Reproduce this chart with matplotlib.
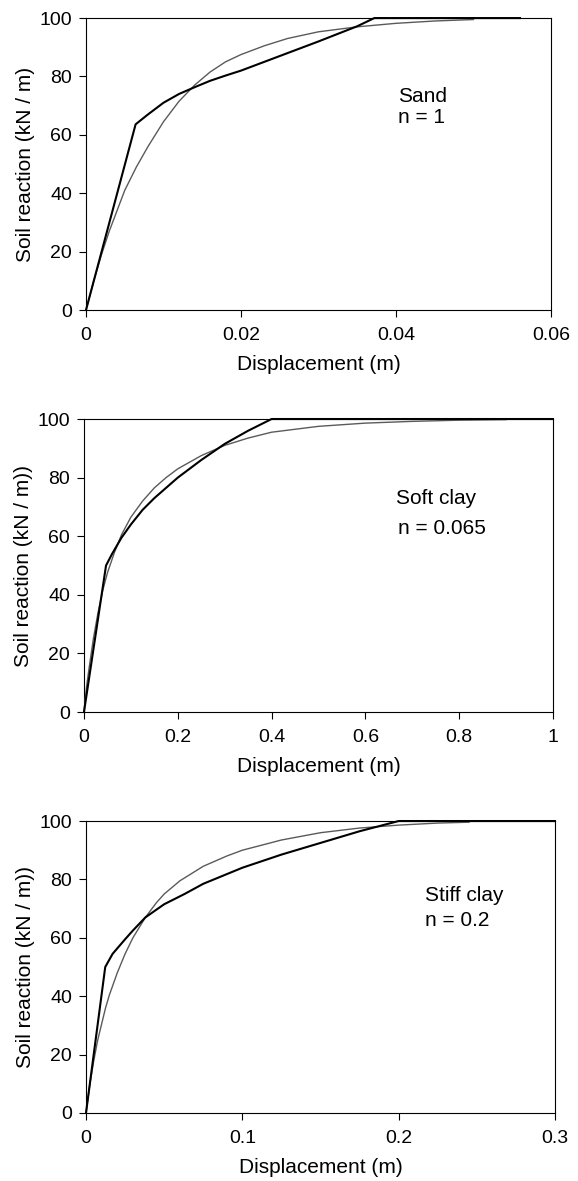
import matplotlib.pyplot as plt

plt.rcParams["font.family"] = ["Liberation Sans", "DejaVu Sans"]

# --- Sand, n = 1 ---
sand_bilin_x = [0, 0.0064, 0.008, 0.010, 0.012, 0.014, 0.016, 0.018, 0.020,
                0.025, 0.030, 0.035, 0.0372, 0.056]
sand_bilin_y = [0, 63.6, 67, 71, 74, 76.3, 78.5, 80.3, 82, 87, 92, 97.2, 100, 100]
sand_fit_x = [0, 0.001, 0.002, 0.003, 0.004, 0.005, 0.0065, 0.008, 0.010, 0.012,
              0.014, 0.016, 0.018, 0.020, 0.023, 0.026, 0.030, 0.035, 0.040,
              0.045, 0.050]
sand_fit_y = [0, 10, 19, 27, 34, 41, 49, 56, 64.5, 71.5, 77, 81.5, 85, 87.5,
              90.5, 93, 95.3, 97, 98.2, 99, 99.5]

# --- Soft clay, n = 0.065 ---
soft_bilin_x = [0, 0.047, 0.06, 0.08, 0.1, 0.125, 0.15, 0.175, 0.2, 0.25,
                0.3, 0.35, 0.4, 1.0]
soft_bilin_y = [0, 50, 54, 59.5, 64, 69, 73, 76.5, 80, 86, 91.5, 96, 100, 100]
soft_fit_x = [0, 0.005, 0.01, 0.02, 0.03, 0.04, 0.05, 0.065, 0.08, 0.1, 0.125,
              0.15, 0.175, 0.2, 0.25, 0.3, 0.35, 0.4, 0.5, 0.6, 0.7, 0.8, 0.9]
soft_fit_y = [0, 8, 14, 25, 34, 41.5, 47.5, 54.5, 60.5, 66.5, 72, 76.5, 80,
              83, 87.5, 91, 93.5, 95.5, 97.5, 98.6, 99.2, 99.6, 99.8]

# --- Stiff clay, n = 0.2 ---
stiff_bilin_x = [0, 0.0123, 0.017, 0.025, 0.03, 0.038, 0.05, 0.063, 0.075,
                 0.1, 0.125, 0.15, 0.175, 0.2, 0.3]
stiff_bilin_y = [0, 50, 54.5, 59.5, 62.5, 67, 71.5, 75, 78.5, 84, 88.5, 92.5,
                 96.5, 100, 100]
stiff_fit_x = [0, 0.0025, 0.005, 0.0075, 0.01, 0.0125, 0.015, 0.02, 0.025,
               0.03, 0.038, 0.045, 0.05, 0.06, 0.075, 0.09, 0.1, 0.125, 0.15,
               0.175, 0.2, 0.225, 0.245]
stiff_fit_y = [0, 10, 18, 25, 30.5, 36, 40.5, 48, 54.5, 60, 67, 72, 75, 79.5,
               84.5, 88, 90, 93.5, 96, 97.6, 98.6, 99.3, 99.6]

panels = [
    dict(rect=[0.1488, 0.7375, 0.8045, 0.2472],
         bx=sand_bilin_x, by=sand_bilin_y, fx=sand_fit_x, fy=sand_fit_y,
         xmax=0.06, xticks=[0, 0.02, 0.04, 0.06],
         xticklabels=["0", "0.02", "0.04", "0.06"],
         ylabel="Soil reaction (kN / m)",
         label1=("Sand", 0.0403, 71.2), label2=("n = 1", 0.0403, 64.0)),
    dict(rect=[0.1453, 0.3971, 0.8114, 0.2481],
         bx=soft_bilin_x, by=soft_bilin_y, fx=soft_fit_x, fy=soft_fit_y,
         xmax=1.0, xticks=[0, 0.2, 0.4, 0.6, 0.8, 1.0],
         xticklabels=["0", "0.2", "0.4", "0.6", "0.8", "1"],
         ylabel="Soil reaction (kN / m))",
         label1=("Soft clay", 0.665, 71.0), label2=("n = 0.065", 0.669, 60.8)),
    dict(rect=[0.1488, 0.0576, 0.8114, 0.2472],
         bx=stiff_bilin_x, by=stiff_bilin_y, fx=stiff_fit_x, fy=stiff_fit_y,
         xmax=0.3, xticks=[0, 0.1, 0.2, 0.3],
         xticklabels=["0", "0.1", "0.2", "0.3"],
         ylabel="Soil reaction (kN / m))",
         label1=("Stiff clay", 0.2167, 72.5), label2=("n = 0.2", 0.2167, 64.0)),
]

fig = plt.figure(figsize=(5.78, 11.81), dpi=100)

for p in panels:
    ax = fig.add_axes(p["rect"])
    ax.plot(p["fx"], p["fy"], color="#5a5a5a", lw=1.0, zorder=3,
            clip_on=False)
    ax.plot(p["bx"], p["by"], color="black", lw=1.5, zorder=4,
            clip_on=False)

    ax.set_xlim(0, p["xmax"])
    ax.set_ylim(0, 100)
    ax.set_xticks(p["xticks"])
    ax.set_xticklabels(p["xticklabels"])
    ax.set_yticks([0, 20, 40, 60, 80, 100])
    ax.tick_params(direction="out", length=5, width=0.8, labelsize=14,
                   colors="black")
    ax.tick_params(axis="x", pad=7)
    ax.tick_params(axis="y", pad=5)
    for s in ax.spines.values():
        s.set_linewidth(0.8)
        s.set_color("black")

    ax.set_xlabel("Displacement (m)", fontsize=15, labelpad=8)
    ax.set_ylabel(p["ylabel"], fontsize=15, labelpad=3)

    for txt, tx, ty in (p["label1"], p["label2"]):
        ax.text(tx, ty, txt, fontsize=15, ha="left", va="baseline")

fig.savefig("out.png", dpi=100)
